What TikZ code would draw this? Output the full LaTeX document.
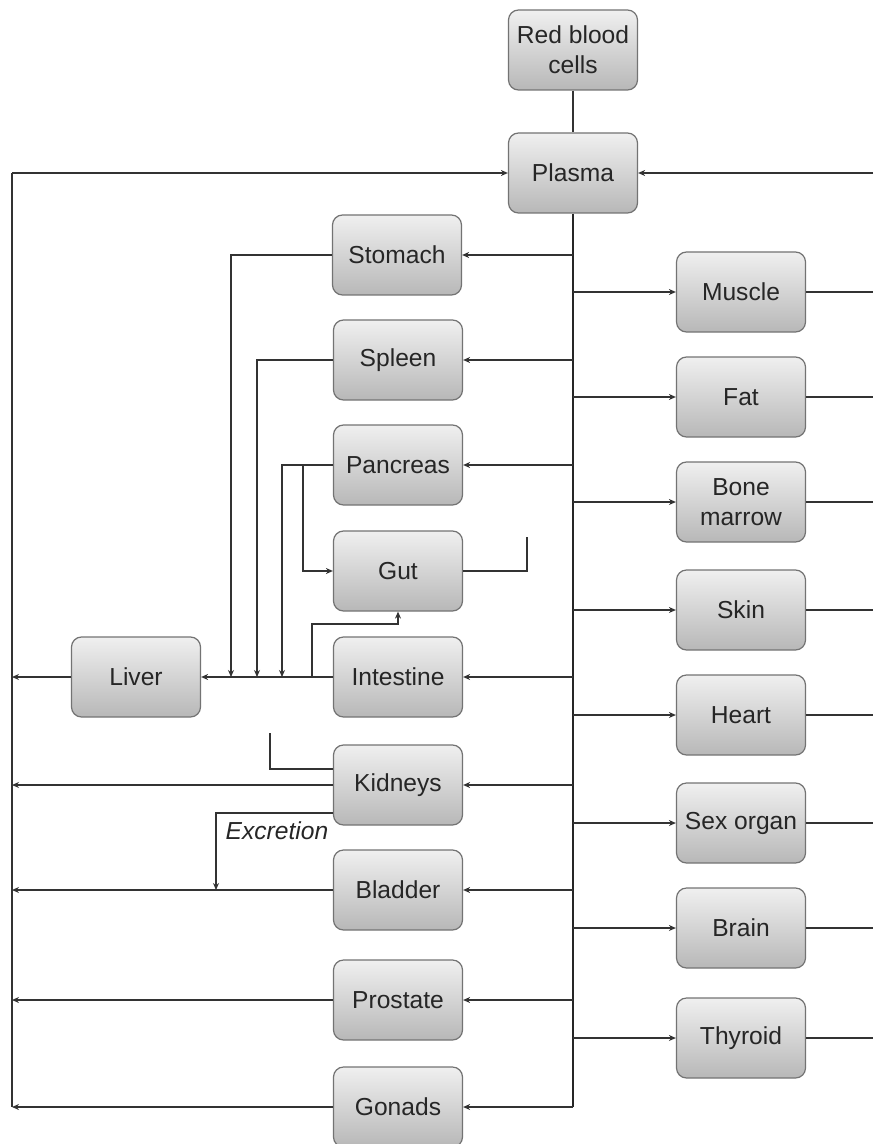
\documentclass[tikz,border=0pt]{standalone}
\usepackage{fontspec}
\setmainfont{Liberation Sans}
\usetikzlibrary{arrows.meta}
\begin{document}
\begin{tikzpicture}[x=0.5pt,y=-0.5pt,
  organ/.style={draw=black!55, line width=0.6pt, rounded corners=5pt,
    top color=black!6, bottom color=black!28, minimum width=64.5pt, minimum height=40pt,
    inner sep=1pt, align=center, font=\fontsize{12.3}{15}\selectfont, text=black!85},
  ln/.style={draw=black!80, line width=0.9pt},
  arr/.style={ln, -{Stealth[length=3.5pt,width=3pt]}},
  trunk/.style={draw=black!85, line width=1.3pt}]
\useasboundingbox (0,0) rectangle (873,1144);
% nodes
\node[organ] (rbc) at (573,50) {Red blood\\cells};
\node[organ] (plasma) at (573,173) {Plasma};
\node[organ] (stomach) at (397,255) {Stomach};
\node[organ] (spleen) at (398,360) {Spleen};
\node[organ] (pancreas) at (398,465) {Pancreas};
\node[organ] (gut) at (398,571) {Gut};
\node[organ] (intestine) at (398,677) {Intestine};
\node[organ] (kidneys) at (398,785) {Kidneys};
\node[organ] (bladder) at (398,890) {Bladder};
\node[organ] (prostate) at (398,1000) {Prostate};
\node[organ] (gonads) at (398,1107) {Gonads};
\node[organ] (liver) at (136,677) {Liver};
\node[organ] (muscle) at (741,292) {Muscle};
\node[organ] (fat) at (741,397) {Fat};
\node[organ] (bone) at (741,502) {Bone\\marrow};
\node[organ] (skin) at (741,610) {Skin};
\node[organ] (heart) at (741,715) {Heart};
\node[organ] (sex) at (741,823) {Sex organ};
\node[organ] (brain) at (741,928) {Brain};
\node[organ] (thyroid) at (741,1038) {Thyroid};
\node[font=\fontsize{12.3}{15}\selectfont\itshape, text=black!85] (exlab) at (277,831) {Excretion};
% coordinates
\coordinate (lvtop) at (12,173);
\coordinate (lvbot) at (12,1107);
\coordinate (cbot) at (573,1107);
\coordinate (redge) at (873,173);
\coordinate (j1) at (231,677);
\coordinate (j2) at (257,677);
\coordinate (j3) at (282,677);
\coordinate (b1) at (312,677);
\coordinate (pb) at (303,465);
\coordinate (gutend) at (527,537);
\coordinate (kend) at (270,733);
\coordinate (exc) at (216,890);
% RBC - plasma
\draw[ln] (rbc.south) -- (plasma.north);
% trunk
\draw[trunk] (plasma.south) -- (cbot);
\draw[ln] (lvtop) -- (lvbot);
\draw[arr] (lvtop) -- (plasma.west);
\draw[arr] (redge) -- (plasma.east);
% left branches from trunk
\foreach \n in {stomach,spleen,pancreas,intestine,kidneys,bladder,prostate,gonads}
  \draw[arr] (\n.east -| cbot) -- (\n.east);
% right branches from trunk
\foreach \n in {muscle,fat,bone,skin,heart,sex,brain,thyroid}{
  \draw[arr] (\n.west -| cbot) -- (\n.west);
  \draw[ln] (\n.east) -- (\n.east -| redge);
}
% drainage to liver
\draw[arr] (stomach.west) -| (j1);
\draw[arr] (spleen.west) -| (j2);
\draw[arr] (pancreas.west) -| (j3);
\draw[arr] (pb) |- (gut.west);
\draw[arr] (intestine.west) -- (liver.east);
\draw[arr] (b1) |- ([yshift=-6pt]gut.south) -- (gut.south);
\draw[ln] (gut.east) -| (gutend);
% to left collector
\draw[arr] (liver.west) -- (liver.west -| lvtop);
\draw[arr] (kidneys.west) -- (kidneys.west -| lvtop);
\draw[arr] (bladder.west) -- (bladder.west -| lvtop);
\draw[arr] (prostate.west) -- (prostate.west -| lvtop);
\draw[arr] (gonads.west) -- (gonads.west -| lvtop);
% kidney extras
\draw[ln] ([yshift=8pt]kidneys.west) -| (kend);
\draw[arr] ([yshift=-14pt]kidneys.west) -| (exc);
\end{tikzpicture}
\end{document}
